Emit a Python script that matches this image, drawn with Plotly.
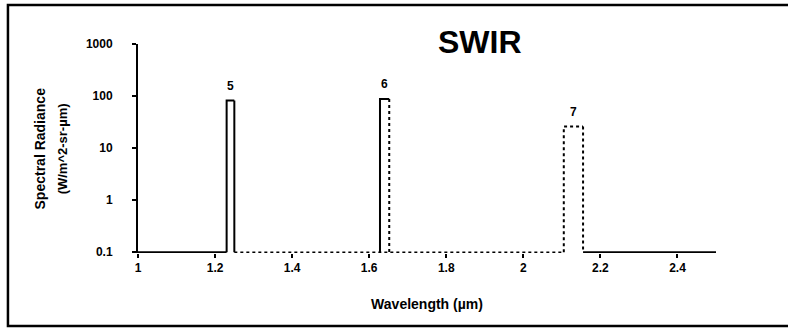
import math
import plotly.graph_objects as go

# ---- data ----
band_names = ["5", "6", "7"]
band_lo = [1.230, 1.628, 2.105]      # µm
band_hi = [1.250, 1.652, 2.155]      # µm
band_peak = [82, 88, 26]             # W/m^2-sr-µm
band_left_style = ["solid", "solid", "dot"]
band_right_style = ["solid", "dot", "dot"]
baseline = 0.1
x_range = [1.0, 2.5]
x_ticks = [1.0, 1.2, 1.4, 1.6, 1.8, 2.0, 2.2, 2.4]
x_ticktext = ["1", "1.2", "1.4", "1.6", "1.8", "2", "2.2", "2.4"]
y_ticks = [0.1, 1, 10, 100, 1000]
y_ticktext = ["0.1", "1", "10", "100", "1000"]

FONT = "Liberation Sans, Arial"

fig = go.Figure()

# baseline segments
fig.add_trace(go.Scatter(x=[x_range[0], band_lo[0]], y=[baseline, baseline], mode="lines",
                         line=dict(color="black", width=2), showlegend=False, hoverinfo="skip"))
fig.add_trace(go.Scatter(x=[band_hi[0], band_lo[2]], y=[baseline, baseline], mode="lines",
                         line=dict(color="black", width=1.5, dash="dot"), showlegend=False, hoverinfo="skip"))
fig.add_trace(go.Scatter(x=[band_hi[2], x_range[1]], y=[baseline, baseline], mode="lines",
                         line=dict(color="black", width=2), showlegend=False, hoverinfo="skip"))

for name, lo, hi, pk, ls, rs in zip(band_names, band_lo, band_hi, band_peak,
                                    band_left_style, band_right_style):
    fig.add_trace(go.Scatter(x=[lo, lo, hi], y=[baseline, pk, pk], mode="lines",
                             line=dict(color="black", width=2, dash=ls),
                             showlegend=False, hoverinfo="skip", cliponaxis=False))
    fig.add_trace(go.Scatter(x=[hi, hi], y=[pk, baseline], mode="lines",
                             line=dict(color="black", width=2, dash=rs),
                             showlegend=False, hoverinfo="skip", cliponaxis=False))
    fig.add_annotation(x=(lo + hi) / 2, y=math.log10(pk), yref="y", xref="x", text=name,
                       showarrow=False, yshift=15,
                       font=dict(family=FONT, size=12, color="black", weight="bold"))

fig.update_layout(
    width=788, height=334,
    margin=dict(l=138, r=72, t=44, b=81),
    paper_bgcolor="white", plot_bgcolor="white",
    showlegend=False,
    xaxis=dict(range=x_range, tickvals=x_ticks, ticktext=x_ticktext,
               showline=False, showgrid=False, zeroline=False,
               ticks="outside", ticklen=4, tickwidth=2, tickcolor="black",
               tickfont=dict(family=FONT, size=12, color="black", weight="bold"),
               title=dict(text="Wavelength (µm)", standoff=24,
                          font=dict(family=FONT, size=14, color="black", weight="bold"))),
    yaxis=dict(type="log", range=[-1.015, 3], tickvals=y_ticks, ticktext=y_ticktext,
               showline=True, linecolor="black", linewidth=2, showgrid=False, zeroline=False,
               ticks="outside", ticklen=4, tickwidth=2, tickcolor="black",
               ticklabelstandoff=17,
               tickfont=dict(family=FONT, size=12, color="black", weight="bold")),
)

# y axis title (two rotated lines)
fig.add_annotation(xref="paper", yref="paper", x=-0.1696, y=0.5, xanchor="center", yanchor="middle",
                   text="Spectral Radiance", textangle=-90, showarrow=False,
                   font=dict(family=FONT, size=14, color="black", weight="bold"))
fig.add_annotation(xref="paper", yref="paper", x=-0.130, y=0.5, xanchor="center", yanchor="middle",
                   text="(W/m^2-sr-µm)", textangle=-90, showarrow=False,
                   font=dict(family=FONT, size=13, color="black", weight="bold"))

# chart title
fig.add_annotation(xref="paper", yref="paper", x=0.592, y=1.0, xanchor="center", yanchor="middle",
                   yshift=2, text="SWIR", showarrow=False,
                   font=dict(family=FONT, size=32, color="black", weight="bold"))

# frame around the figure
fig.add_shape(type="rect", xref="paper", yref="paper",
              x0=-0.225, x1=1.2, y0=-0.349, y1=1.187,
              line=dict(color="black", width=2.5), fillcolor="rgba(0,0,0,0)")

fig.write_html("out.html")
